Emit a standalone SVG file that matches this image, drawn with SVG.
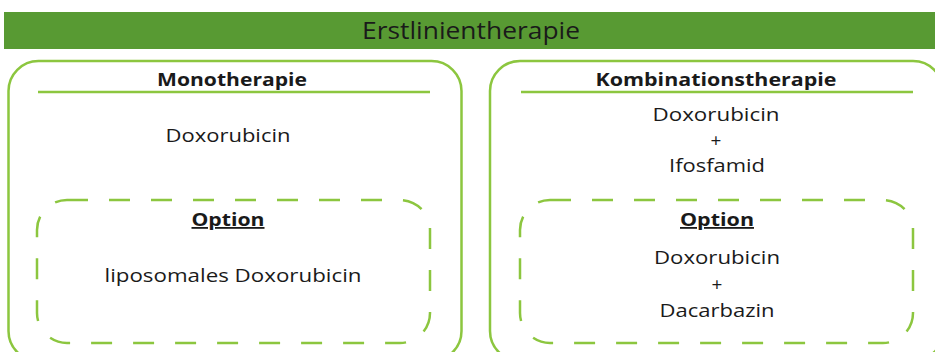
<svg xmlns="http://www.w3.org/2000/svg" width="935" height="352" viewBox="0 0 935 352">
<style>
.t{font-family:"Open Sans","Liberation Sans",sans-serif;fill:#1a1a1a;text-anchor:middle}
.h{font-size:17px;font-weight:bold}
.n{font-size:19px}
.o{font-size:18px;font-weight:bold;text-decoration:underline}
.box{fill:none;stroke:#8cc63f;stroke-width:2.5}
.dash{fill:none;stroke:#8cc63f;stroke-width:2.5;stroke-dasharray:21 21}
.rule{stroke:#8cc63f;stroke-width:2.5}
</style>
<rect width="935" height="352" fill="#ffffff"/>
<g id="header">
<rect x="4" y="12" width="935" height="37" fill="#589a33"/>
<text class="t" x="471" y="39" font-size="23.5" fill="#111111" textLength="218" lengthAdjust="spacingAndGlyphs">Erstlinientherapie</text>
</g>
<g id="mono">
<rect class="box" x="8.5" y="61" width="453" height="300" rx="30"/>
<line class="rule" x1="38" y1="92" x2="430" y2="92"/>
<text class="t h" x="232" y="86" textLength="150" lengthAdjust="spacingAndGlyphs">Monotherapie</text>
<text class="t n" x="228" y="142" textLength="125" lengthAdjust="spacingAndGlyphs">Doxorubicin</text>
</g>
<g id="mono-option">
<rect class="dash" x="37" y="200" width="393" height="143" rx="30"/>
<text class="t o" x="228" y="226" textLength="73" lengthAdjust="spacingAndGlyphs">Option</text>
<text class="t n" x="233" y="282" textLength="257" lengthAdjust="spacingAndGlyphs">liposomales Doxorubicin</text>
</g>
<g id="kombi">
<rect class="box" x="490" y="61" width="453" height="300" rx="30"/>
<line class="rule" x1="521" y1="92" x2="913" y2="92"/>
<text class="t h" x="716" y="86" textLength="241" lengthAdjust="spacingAndGlyphs">Kombinationstherapie</text>
<text class="t n" x="716" y="121" textLength="127" lengthAdjust="spacingAndGlyphs">Doxorubicin</text>
<text class="t n" x="716" y="147">+</text>
<text class="t n" x="717" y="172" textLength="96" lengthAdjust="spacingAndGlyphs">Ifosfamid</text>
</g>
<g id="kombi-option">
<rect class="dash" x="520" y="200" width="393" height="143" rx="30"/>
<text class="t o" x="717" y="226" textLength="74" lengthAdjust="spacingAndGlyphs">Option</text>
<text class="t n" x="717" y="264" textLength="126" lengthAdjust="spacingAndGlyphs">Doxorubicin</text>
<text class="t n" x="717" y="291">+</text>
<text class="t n" x="717" y="317" textLength="115" lengthAdjust="spacingAndGlyphs">Dacarbazin</text>
</g>
<g id="connectors"></g>
</svg>
